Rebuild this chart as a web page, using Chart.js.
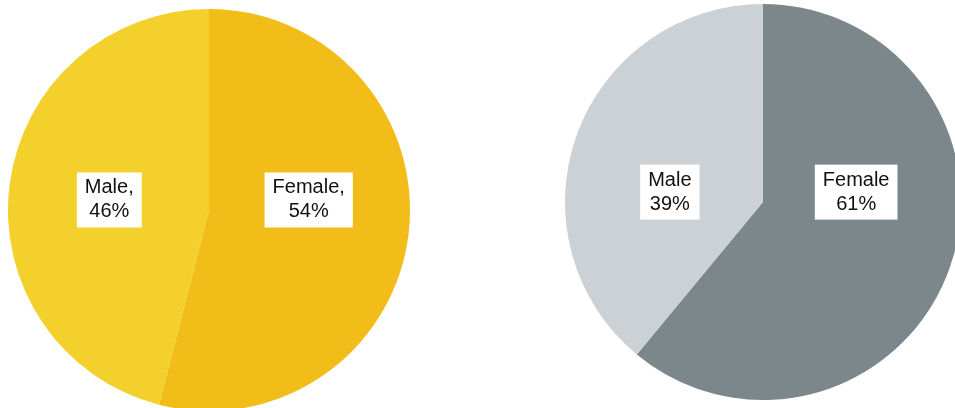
<!DOCTYPE html>
<html>
<head>
<meta charset="utf-8">
<script src="https://cdn.jsdelivr.net/npm/chart.js@4/dist/chart.umd.min.js"></script>
<style>
  html, body {
    margin: 0;
    width: 955px;
    height: 408px;
    overflow: hidden;
    background: #fff;
  }
  .pie {
    position: absolute;
  }
  #left {
    left: 8px;
    top: 9px;
    width: 402px;
    height: 402px;
  }
  #right {
    left: 565px;
    top: 4px;
    width: 396px;
    height: 396px;
  }
</style>
</head>
<body>
<div class="pie" id="left"><canvas id="pieA"></canvas></div>
<div class="pie" id="right"><canvas id="pieB"></canvas></div>
<script>
// slices are listed clockwise from 12 o'clock
const categorias = ["Female", "Male"];
const valoresA = [54, 46];
const valoresB = [61, 39];
const coresA = ["#F2BD18", "#F4D02C"];
const coresB = ["#7C878C", "#CCD1D5"];

// white boxed labels, one per slice
const rotulos = {
  id: "rotulos",
  afterDatasetsDraw(chart, args, opts) {
    const ctx = chart.ctx;
    const meta = chart.getDatasetMeta(0);
    const valores = chart.data.datasets[0].data;
    ctx.save();
    ctx.font = "20px 'Liberation Sans', Arial, sans-serif";
    ctx.textAlign = "center";
    ctx.textBaseline = "middle";
    meta.data.forEach((arc, i) => {
      const p = arc.getProps(["x", "y", "startAngle", "endAngle", "outerRadius"], true);
      const meio = (p.startAngle + p.endAngle) / 2;
      const x = p.x + Math.cos(meio) * p.outerRadius * 0.5;
      const y = p.y - p.outerRadius * 0.05;
      const linhas = [
        chart.data.labels[i] + opts.sep,
        valores[i] + "%",
      ];
      const larg = Math.max(...linhas.map((l) => ctx.measureText(l).width)) + 16;
      const alt = 55;
      ctx.fillStyle = "#fff";
      ctx.fillRect(x - larg / 2, y - alt / 2, larg, alt);
      ctx.fillStyle = "#111";
      ctx.fillText(linhas[0], x, y - 12);
      ctx.fillText(linhas[1], x, y + 12);
    });
    ctx.restore();
  },
};

function criarPizza(id, valores, cores, sep) {
  const ctx = document.getElementById(id).getContext("2d");
  return new Chart(ctx, {
    type: "pie",
    data: {
      labels: categorias,
      datasets: [
        {
          data: valores,
          backgroundColor: cores,
          borderWidth: 0,
        },
      ],
    },
    options: {
      responsive: true,
      maintainAspectRatio: false,
      animation: false,
      layout: { padding: 0 },
      plugins: {
        legend: { display: false },
        tooltip: { enabled: false },
        rotulos: { sep: sep },
      },
    },
    plugins: [rotulos],
  });
}

criarPizza("pieA", valoresA, coresA, ",");
criarPizza("pieB", valoresB, coresB, "");
</script>
</body>
</html>
